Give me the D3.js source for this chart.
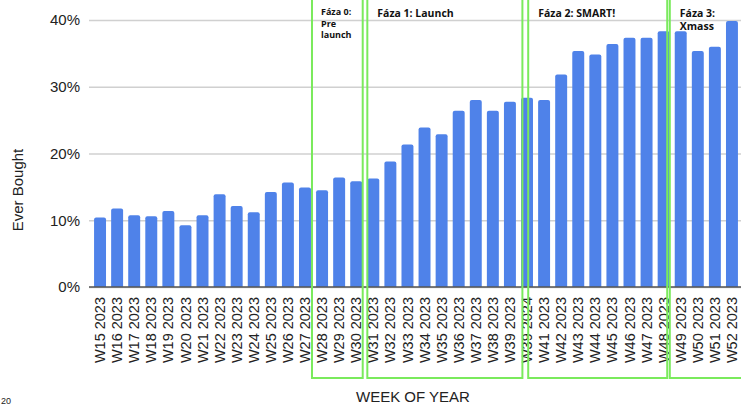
<!DOCTYPE html>
<html>
<head>
<meta charset="utf-8">
<script src="https://cdn.jsdelivr.net/npm/d3@7"></script>
<style>
  body { margin: 0; background: #fff; }
  svg { display: block; font-family: "Liberation Sans", Arial, sans-serif; }
</style>
</head>
<body>
<div id="chart"></div>
<script>
// week labels (as printed on the axis)
var weeks = ["W15 2023","W16 2023","W17 2023","W18 2023","W19 2023","W20 2023","W21 2023",
  "W22 2023","W23 2023","W24 2023","W25 2023","W26 2023","W27 2023","W28 2023","W29 2023",
  "W30 2023","W31 2023","W32 2023","W33 2023","W34 2023","W35 2023","W36 2023","W37 2023",
  "W38 2023","W39 2023","W39 2024","W41 2023","W42 2023","W43 2023","W44 2023","W45 2023",
  "W46 2023","W47 2023","W48 2023","W49 2023","W50 2023","W51 2023","W52 2023"];

// share of customers who ever bought
var everBought = [0.104,0.1175,0.1075,0.106,0.114,0.0925,0.1075,0.139,0.1215,0.112,0.1425,
  0.1565,0.149,0.145,0.164,0.1585,0.1625,0.188,0.2135,0.239,0.229,0.264,0.28,0.264,0.2775,
  0.2835,0.28,0.3185,0.3535,0.3485,0.364,0.3735,0.3735,0.383,0.383,0.3535,0.36,0.3985];

var yTicks = [0, 0.1, 0.2, 0.3, 0.4];

// campaign phases (green boxes)
var phaseLabels = [["Fáza 0:","Pre","launch"],["Fáza 1: Launch"],["Fáza 2: SMART!"],["Fáza 3:","Xmass"]];
var phaseStart = ["W28 2023","W31 2023","W39 2024","W49 2023"];
var phaseEnd = ["W30 2023","W39 2023","W48 2023","W52 2023"];

var width = 741, height = 405;
var phaseStartOff = [-0.24, 0, 0.42, -0.29];
var phaseEndOff = [0.73, 1.08, 0.56, 1.6];

var svg = d3.select("#chart").append("svg")
    .attr("width", width)
    .attr("height", height);

var x = d3.scaleBand()
    .domain(weeks)
    .range([91.5, 740.5])
    .paddingInner(0.3)
    .paddingOuter(0.15);

var y = d3.scaleLinear()
    .domain([0, 0.4])
    .range([287, 20]);

// gridlines + y labels
var yAxis = d3.axisLeft(y)
    .tickValues(yTicks)
    .tickFormat(d3.format(".0%"))
    .tickSize(-(width - 89))
    .tickPadding(9);

var gy = svg.append("g")
    .attr("transform", "translate(89,0)")
    .call(yAxis);
gy.select(".domain").remove();
gy.selectAll(".tick line").attr("stroke", "#d0d0d0").attr("stroke-width", 1.3);
gy.selectAll(".tick text")
    .attr("fill", "#222")
    .style("font-size", "15px")
    .attr("x", -9);

// bars
svg.append("g").selectAll("path")
    .data(weeks)
    .enter()
    .append("path")
    .attr("fill", "#4f82e9")
    .attr("d", function(d, i) {
        var x0 = x(d), w = x.bandwidth(), y0 = y(everBought[i]), y1 = y(0), r = 2;
        return "M" + x0 + "," + y1 +
            "V" + (y0 + r) +
            "Q" + x0 + "," + y0 + " " + (x0 + r) + "," + y0 +
            "H" + (x0 + w - r) +
            "Q" + (x0 + w) + "," + y0 + " " + (x0 + w) + "," + (y0 + r) +
            "V" + y1 + "Z";
    });

// baseline
svg.append("line")
    .attr("x1", 89).attr("x2", width)
    .attr("y1", y(0)).attr("y2", y(0))
    .attr("stroke", "#555")
    .attr("stroke-width", 1.5);

// x labels
var xAxis = d3.axisBottom(x).tickSize(0).tickPadding(0);
var gx = svg.append("g")
    .attr("transform", "translate(0," + y(0) + ")")
    .call(xAxis);
gx.select(".domain").remove();
gx.selectAll(".tick text")
    .attr("transform", "rotate(-90)")
    .attr("x", -10)
    .attr("y", 0)
    .attr("dy", "0.35em")
    .attr("text-anchor", "end")
    .attr("fill", "#222")
    .style("font-size", "14.5px");

// axis titles
svg.append("text")
    .attr("transform", "translate(23,190) rotate(-90)")
    .attr("text-anchor", "middle")
    .style("font-size", "15px")
    .attr("fill", "#222")
    .text("Ever Bought");

svg.append("text")
    .attr("x", 413)
    .attr("y", 402)
    .attr("text-anchor", "middle")
    .style("font-size", "15px")
    .attr("fill", "#222")
    .text("WEEK OF YEAR");

// small fragment at the bottom left
svg.append("text")
    .attr("x", 1)
    .attr("y", 404)
    .style("font-size", "9px")
    .attr("fill", "#222")
    .text("20");

// phase boxes
var step = x.step();
phaseLabels.forEach(function(lines, i) {
    var left = x(phaseStart[i]) + phaseStartOff[i] * step;
    var right = x(phaseEnd[i]) + phaseEndOff[i] * step;
    svg.append("rect")
        .attr("x", left)
        .attr("y", -10)
        .attr("width", right - left)
        .attr("height", 388)
        .attr("fill", "none")
        .attr("stroke", "#7aea5c")
        .attr("stroke-width", 2);

    var small = i == 0;
    var t = svg.append("text")
        .attr("x", left + (small ? 9 : 10))
        .attr("y", small ? 15 : 17)
        .style("font-family", "'Open Sans', sans-serif")
        .style("font-weight", "bold")
        .style("font-size", small ? "9px" : "10.5px")
        .attr("fill", "#111");
    lines.forEach(function(l, j) {
        t.append("tspan")
            .attr("x", left + (small ? 9 : 10))
            .attr("dy", j == 0 ? 0 : (small ? 11.5 : 13))
            .text(l);
    });
});
</script>
</body>
</html>
